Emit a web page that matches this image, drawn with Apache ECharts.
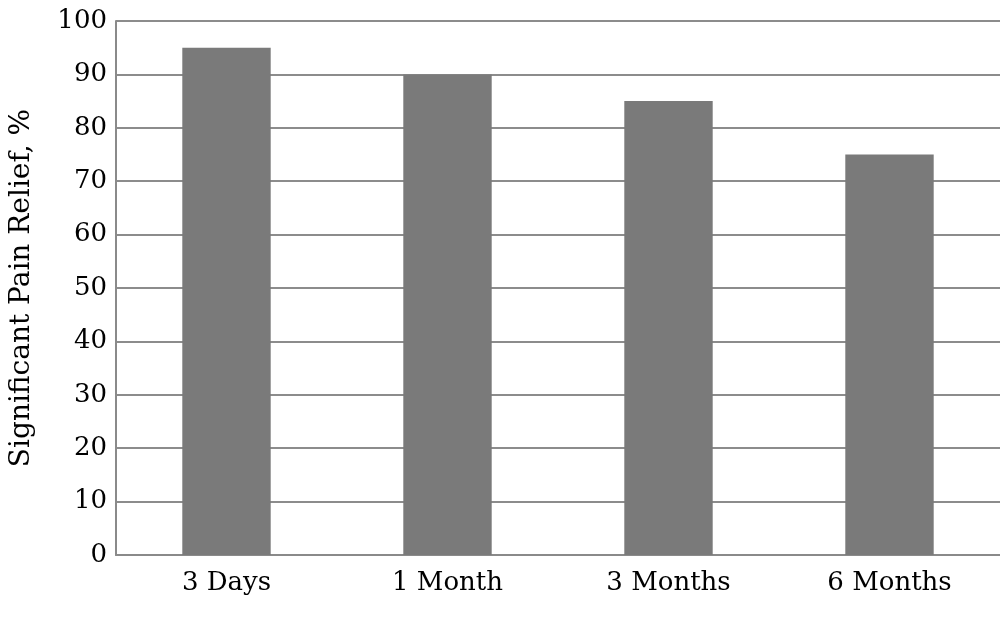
<!DOCTYPE html>
<html><head><meta charset="utf-8">
<script src="https://cdn.jsdelivr.net/npm/echarts@6/dist/echarts.min.js"></script>
<style>html,body{margin:0;padding:0;background:#fff}#c{width:1000px;height:620px}</style>
</head><body><div id="c"></div>
<script>
const categories = ['3 Days', '1 Month', '3 Months', '6 Months'];
const reliefValues = [95, 90, 85, 75];
const yAxisName = 'Significant Pain Relief, %';

const chart = echarts.init(document.getElementById('c'), null, {renderer: 'canvas'});
const font = 'DejaVu Serif';
chart.setOption({
  animation: false,
  backgroundColor: '#fff',
  grid: {left: 116, right: 0, top: 21, bottom: 65, containLabel: false, outerBoundsMode: 'none'},
  xAxis: {
    type: 'category', data: categories,
    axisLine: {show: true, lineStyle: {color: '#8a8a8a', width: 2}},
    axisTick: {show: false},
    axisLabel: {color: '#000', fontFamily: font, fontSize: 26, margin: 15}
  },
  yAxis: {
    type: 'value', min: 0, max: 100, interval: 10,
    name: yAxisName, nameLocation: 'middle', nameGap: 80, nameRotate: 90,
    nameTextStyle: {color: '#000', fontFamily: font, fontSize: 28},
    axisLine: {show: true, lineStyle: {color: '#8a8a8a', width: 2}},
    axisTick: {show: false},
    axisLabel: {color: '#000', fontFamily: font, fontSize: 26, margin: 9},
    splitLine: {show: true, lineStyle: {color: '#8c8c8c', width: 2}}
  },
  series: [{
    type: 'bar', data: reliefValues, barWidth: '40%',
    itemStyle: {color: '#7a7a7a'}
  }]
});
</script></body></html>
